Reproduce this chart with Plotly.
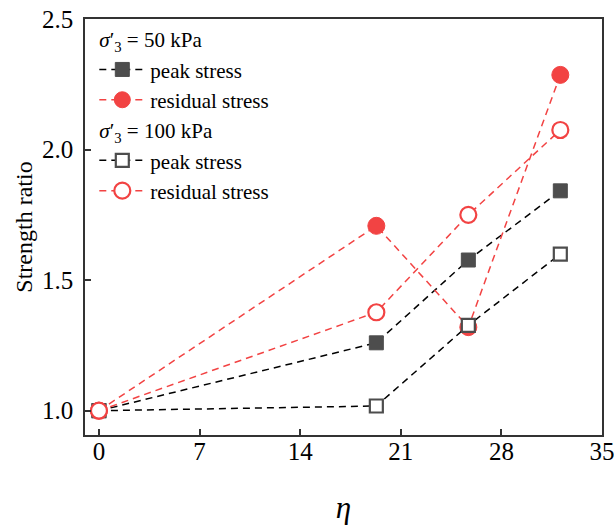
import plotly.graph_objects as go

# Aspect ratio eta for each test
eta = [0, 19.3, 25.7, 32.1]

# Strength ratio, sigma'3 = 50 kPa
peak_50 = [1.0, 1.26, 1.577, 1.842]
residual_50 = [1.0, 1.708, 1.32, 2.286]

# Strength ratio, sigma'3 = 100 kPa
peak_100 = [1.0, 1.018, 1.327, 1.600]
residual_100 = [1.0, 1.377, 1.75, 2.075]

x_ticks = [0, 7, 14, 21, 28, 35]
y_ticks = [1.0, 1.5, 2.0, 2.5]

RED = "#F24343"
DARK = "#4D4D4D"
DASH = "7px,5px"
FONT = "Liberation Serif"

fig = go.Figure()

fig.add_trace(go.Scatter(
    x=eta, y=peak_50, mode="lines+markers", name="peak stress",
    legendgroup="g50",
    legendgrouptitle=dict(text="<i>σ</i>′<sub>3</sub> = 50 kPa",
                          font=dict(family=FONT, size=21, color="black")),
    line=dict(color="black", width=1.5, dash=DASH),
    marker=dict(symbol="square", size=14, color=DARK,
                line=dict(color=DARK, width=1)),
))
fig.add_trace(go.Scatter(
    x=eta, y=residual_50, mode="lines+markers", name="residual stress",
    legendgroup="g50",
    line=dict(color=RED, width=1.5, dash=DASH),
    marker=dict(symbol="circle", size=17, color=RED,
                line=dict(color=RED, width=1)),
))
fig.add_trace(go.Scatter(
    x=eta, y=peak_100, mode="lines+markers", name="peak stress",
    legendgroup="g100",
    legendgrouptitle=dict(text="<i>σ</i>′<sub>3</sub> = 100 kPa",
                          font=dict(family=FONT, size=21, color="black")),
    line=dict(color="black", width=1.5, dash=DASH),
    marker=dict(symbol="square", size=13, color="white",
                line=dict(color=DARK, width=2.2)),
))
fig.add_trace(go.Scatter(
    x=eta, y=residual_100, mode="lines+markers", name="residual stress",
    legendgroup="g100",
    line=dict(color=RED, width=1.5, dash=DASH),
    marker=dict(symbol="circle", size=16, color="white",
                line=dict(color=RED, width=2.2)),
))

axis_common = dict(
    showline=True, linecolor="#333333", linewidth=1.5, mirror=True,
    ticks="inside", ticklen=6, tickwidth=1.5, tickcolor="#333333",
    showgrid=False, zeroline=False, automargin=False,
    ticklabeloverflow="allow",
    tickfont=dict(family=FONT, size=25, color="black"),
)

fig.update_layout(
    width=614, height=525,
    margin=dict(l=85, r=12, t=19, b=90),
    paper_bgcolor="white", plot_bgcolor="white",
    font=dict(family=FONT, size=21, color="black"),
    xaxis=dict(
        range=[-0.97, 35], tickvals=x_ticks, ticklabelstandoff=-7,
        title=dict(text="<i>η</i>", font=dict(family=FONT, size=31), standoff=38),
        **axis_common,
    ),
    yaxis=dict(
        range=[0.907, 2.5], tickvals=y_ticks, tickformat=".1f",
        ticklabelstandoff=5,
        title=dict(text="Strength ratio", font=dict(family=FONT, size=24), standoff=3),
        **axis_common,
    ),
    legend=dict(
        x=0.018, y=1.0, xanchor="left", yanchor="top",
        bgcolor="rgba(0,0,0,0)", borderwidth=0,
        font=dict(family=FONT, size=21, color="black"),
        traceorder="grouped", tracegroupgap=0, itemwidth=46,
    ),
)

fig.write_html("out.html")
